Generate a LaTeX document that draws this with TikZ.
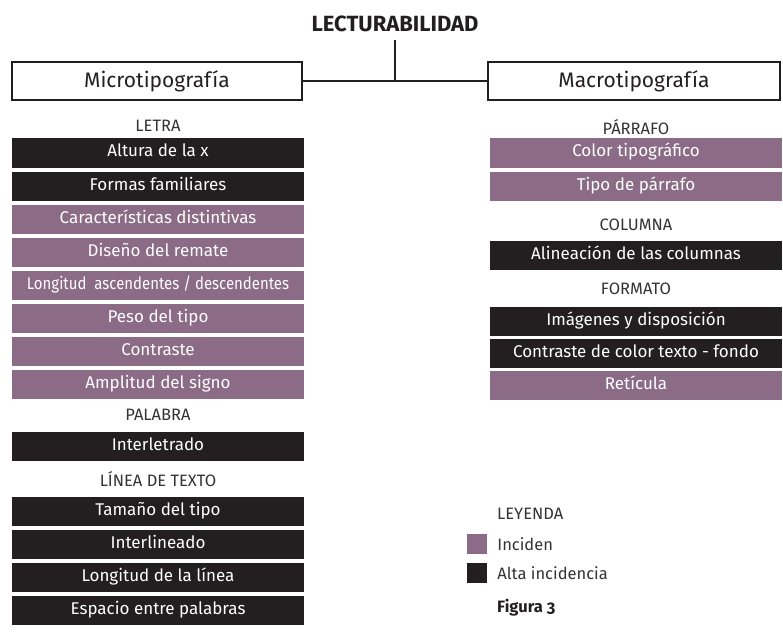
\documentclass[tikz,border=0pt]{standalone}
\usepackage{fontspec}
\setmainfont{Fira Sans}
\usetikzlibrary{positioning}
\definecolor{negro}{HTML}{231F20}
\definecolor{malva}{HTML}{8B6B86}
\definecolor{rotulo}{HTML}{333333}

\begin{document}
\begin{tikzpicture}
[x=1pt,y=-1pt,
 cabecera/.style={draw=negro,line width=1.3pt,minimum height=38pt,inner sep=0pt,
   text=negro,font=\fontsize{21}{24}\selectfont},
 caja/.style={minimum width=292pt,minimum height=29pt,inner sep=0pt,
   text height=12pt,text depth=4pt,text=white,font=\fontsize{17}{19}\selectfont},
 alta/.style={caja,fill=negro},
 incide/.style={caja,fill=malva},
 seccion/.style={text=rotulo,inner sep=0pt,font=\fontsize{16.5}{18}\selectfont},
 leyenda/.style={text=rotulo,inner sep=0pt,anchor=west,font=\fontsize{16.5}{18}\selectfont},
 enlace/.style={draw=negro,line width=1.2pt}]
\useasboundingbox (0,0) rectangle (783,631);

% titulo y ramas
\node[font=\bfseries\fontsize{22}{25}\selectfont,text=negro,inner ysep=7.5pt] (titulo) at (395,24) {LECTURABILIDAD};
\node[cabecera,minimum width=290pt] (micro) at (157,81) {Microtipografía};
\node[cabecera,minimum width=292pt] (macro) at (634,81) {Macrotipografía};
\draw[enlace] (micro) -- (macro);
\draw[enlace] (titulo.south) -- (titulo.south |- micro.center);

% microtipografia
\node[seccion] (letra) at (158,126) {LETRA};
\node[alta] (altura) at (158,153) {Altura de la x};
\node[alta] (formas) at (158,186) {Formas familiares};
\node[incide] (caract) at (158,219) {Características distintivas};
\node[incide] (remate) at (158,252) {Diseño del remate};
\node[incide] (ascend) at (158,285) {\scalebox{0.88}[1]{Longitud\ \ ascendentes / descendentes}};
\node[incide] (peso) at (158,318) {Peso del tipo};
\node[incide] (contraste) at (158,351) {Contraste};
\node[incide] (amplitud) at (158,384) {Amplitud del signo};
\node[seccion] (palabra) at (158,415) {PALABRA};
\node[alta] (interletrado) at (158,446) {Interletrado};
\node[seccion] (linea) at (158,479) {LÍNEA DE TEXTO};
\node[alta] (tamano) at (158,511) {Tamaño del tipo};
\node[alta] (interlineado) at (158,544) {Interlineado};
\node[alta] (longlinea) at (158,577) {Longitud de la línea};
\node[alta] (espacio) at (158,610) {Espacio entre palabras};

% macrotipografia
\node[seccion] (parrafo) at (636,127) {PÁRRAFO};
\node[incide] (color) at (636,153) {Color tipográfico};
\node[incide] (tipopar) at (636,186) {Tipo de párrafo};
\node[seccion] (columna) at (636,225) {COLUMNA};
\node[alta] (alineacion) at (636,255) {Alineación de las columnas};
\node[seccion] (formato) at (636,289) {FORMATO};
\node[alta] (imagenes) at (636,321) {Imágenes y disposición};
\node[alta] (fondo) at (636,353) {Contraste de color texto - fondo};
\node[incide] (reticula) at (636,385) {Retícula};

% leyenda
\node[leyenda] (leyendatit) at (497,514) {LEYENDA};
\node[fill=malva,minimum size=20pt,inner sep=0pt] (cuadroA) at (477,544) {};
\node[fill=negro,minimum size=20pt,inner sep=0pt] (cuadroB) at (477,573) {};
\node[leyenda,right=10pt of cuadroA] (inciden) {Inciden};
\node[leyenda,right=10pt of cuadroB] (altainc) {Alta incidencia};
\node[leyenda,font=\bfseries\fontsize{16.5}{18}\selectfont\addfontfeatures{Numbers=OldStyle},text=negro] (figura) at (497,608) {Figura 3};
\end{tikzpicture}
\end{document}
